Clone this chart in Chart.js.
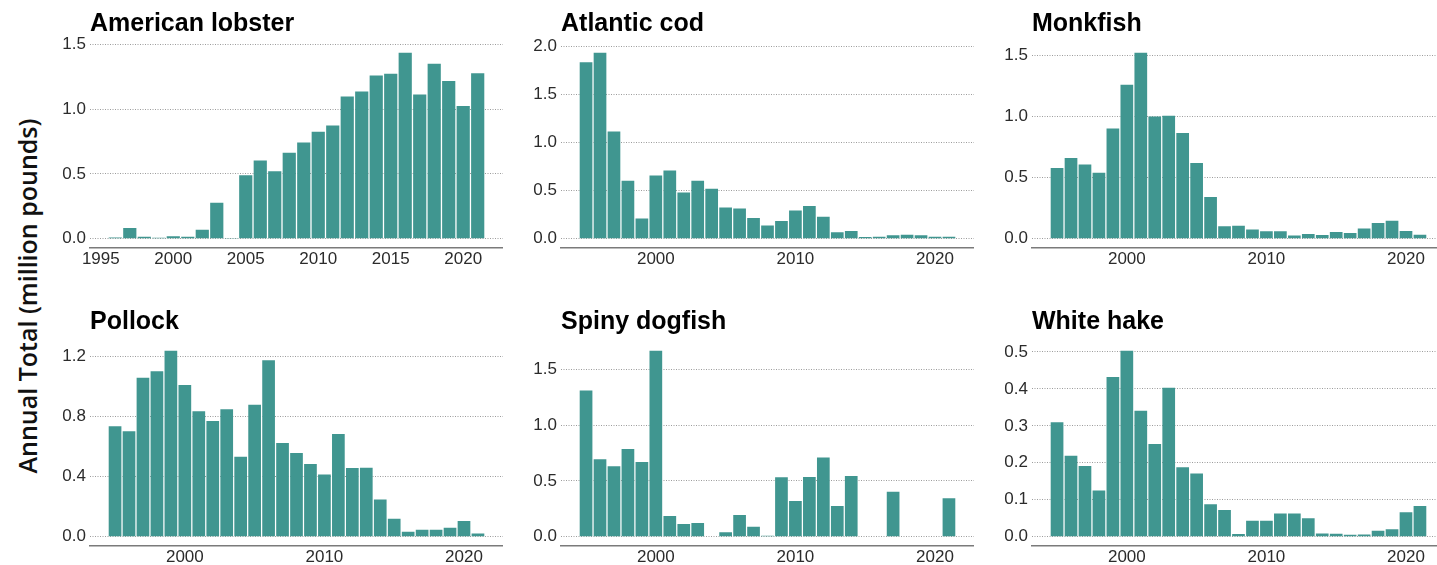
<!DOCTYPE html>
<html>
<head>
<meta charset="utf-8">
<script src="https://cdn.jsdelivr.net/npm/chart.js@4.4.1/dist/chart.umd.min.js"></script>
<style>
  html, body { margin: 0; padding: 0; background: #fff; overflow: hidden; }
  body { width: 1437px; height: 565px; position: relative; }
  canvas { position: absolute; }
  #ytitle {
    position: absolute; left: 27px; top: 296px;
    transform: translate(-50%, -50%) rotate(-90deg);
    white-space: nowrap;
    font: 600 25px 'Open Sans', sans-serif;
    color: #111;
  }
</style>
</head>
<body>
<div id="ytitle">Annual Total (million pounds)</div>
<canvas id="c0" width="463" height="278"></canvas>
<canvas id="c1" width="463" height="278"></canvas>
<canvas id="c2" width="463" height="278"></canvas>
<canvas id="c3" width="463" height="278"></canvas>
<canvas id="c4" width="463" height="278"></canvas>
<canvas id="c5" width="463" height="278"></canvas>
<script>
const years = [1995, 1996, 1997, 1998, 1999, 2000, 2001, 2002, 2003, 2004, 2005, 2006, 2007, 2008,
  2009, 2010, 2011, 2012, 2013, 2014, 2015, 2016, 2017, 2018, 2019, 2020, 2021];

const lobster = [null, 0.010, 0.082, 0.015, 0.008, 0.018, 0.015, 0.069, 0.278, 0.005, 0.489, 0.604, 0.520, 0.664,
  0.743, 0.826, 0.874, 1.098, 1.137, 1.260, 1.273, 1.435, 1.114, 1.350, 1.217, 1.024, 1.278];
const cod = [1.834, 1.931, 1.114, 0.602, 0.211, 0.657, 0.709, 0.481, 0.602, 0.519, 0.325, 0.315, 0.215, 0.138,
  0.183, 0.294, 0.339, 0.228, 0.066, 0.080, 0.017, 0.021, 0.035, 0.042, 0.035, 0.021, 0.021];
const monkfish = [0.577, 0.659, 0.607, 0.539, 0.901, 1.258, 1.519, 0.999, 1.005, 0.863, 0.618, 0.340, 0.101, 0.106,
  0.076, 0.060, 0.060, 0.027, 0.038, 0.030, 0.054, 0.046, 0.084, 0.128, 0.147, 0.063, 0.033];
const pollock = [0.734, 0.701, 1.056, 1.100, 1.236, 1.009, 0.834, 0.770, 0.847, 0.532, 0.878, 1.173, 0.623, 0.557,
  0.484, 0.413, 0.683, 0.457, 0.459, 0.248, 0.120, 0.033, 0.047, 0.047, 0.060, 0.104, 0.022];
const dogfish = [1.311, 0.695, 0.632, 0.787, 0.671, 1.668, 0.186, 0.114, 0.123, null, 0.039, 0.195, 0.090, 0.009,
  0.533, 0.320, 0.536, 0.710, 0.275, 0.545, null, null, 0.404, null, null, null, 0.344];
const hake = [0.310, 0.219, 0.191, 0.125, 0.432, 0.503, 0.341, 0.251, 0.403, 0.188, 0.171, 0.088, 0.072, 0.007,
  0.043, 0.043, 0.063, 0.063, 0.050, 0.009, 0.008, 0.005, 0.006, 0.016, 0.020, 0.066, 0.083];

const fiveYearTicks = [1995, 2000, 2005, 2010, 2015, 2020];
const decadeTicks = [2000, 2010, 2020];

const panels = [
  { title: 'American lobster', values: lobster, xTicks: fiveYearTicks, yTicks: [0, 0.5, 1.0, 1.5] },
  { title: 'Atlantic cod', values: cod, xTicks: decadeTicks, yTicks: [0, 0.5, 1.0, 1.5, 2.0] },
  { title: 'Monkfish', values: monkfish, xTicks: decadeTicks, yTicks: [0, 0.5, 1.0, 1.5] },
  { title: 'Pollock', values: pollock, xTicks: decadeTicks, yTicks: [0, 0.4, 0.8, 1.2] },
  { title: 'Spiny dogfish', values: dogfish, xTicks: decadeTicks, yTicks: [0, 0.5, 1.0, 1.5] },
  { title: 'White hake', values: hake, xTicks: decadeTicks, yTicks: [0, 0.1, 0.2, 0.3, 0.4, 0.5] }
];

const BAR = '#409690';
const TICK_FONT = { family: "'Liberation Sans', Arial, sans-serif", size: 17 };

panels.forEach((p, i) => {
  const canvas = document.getElementById('c' + i);
  canvas.style.left = (40 + (i % 3) * 471) + 'px';
  canvas.style.top = (i < 3 ? 0 : 297.5) + 'px';

  // ggplot-like ranges: bars 0.9 wide, 5% expansion
  const present = years.filter((y, k) => p.values[k] !== null);
  const lo = Math.min(...present) - 0.45;
  const hi = Math.max(...present) + 0.45;
  const xPad = (hi - lo) * 0.05;
  const vMax = Math.max(...p.values.filter(v => v !== null));

  new Chart(canvas, {
    type: 'bar',
    data: {
      datasets: [{
        data: years.map((y, k) => ({ x: y, y: p.values[k] })),
        backgroundColor: BAR,
        borderWidth: 0,
        barPercentage: 0.91,
        categoryPercentage: 1.0
      }]
    },
    options: {
      responsive: false,
      animation: false,
      events: [],
      layout: { padding: 0 },
      plugins: {
        legend: { display: false },
        tooltip: { enabled: false },
        title: {
          display: true,
          text: p.title,
          align: 'start',
          fullSize: false,
          color: '#000',
          font: { family: "'Liberation Sans', Arial, sans-serif", size: 25, weight: 'bold' },
          padding: { top: 9.5, bottom: 4 }
        }
      },
      scales: {
        x: {
          type: 'linear',
          offset: false,
          min: lo - xPad,
          max: hi + xPad,
          afterBuildTicks: axis => { axis.ticks = p.xTicks.map(v => ({ value: v })); },
          afterFit: axis => { axis.height = 30; },
          grid: { display: false, drawTicks: false },
          border: { display: true, color: '#7a7a7a', width: 1.5 },
          ticks: {
            autoSkip: false,
            maxRotation: 0,
            padding: 1,
            color: '#2b2b2b',
            font: TICK_FONT,
            callback: v => String(v)
          }
        },
        y: {
          min: -0.05 * vMax,
          max: 1.05 * vMax,
          afterBuildTicks: axis => { axis.ticks = p.yTicks.map(v => ({ value: v })); },
          afterFit: axis => { axis.width = 50; },
          grid: { color: '#9c9c9c', lineWidth: 1, drawTicks: false },
          border: { display: false, dash: [1, 1.5] },
          ticks: {
            padding: 4,
            color: '#2b2b2b',
            font: TICK_FONT,
            callback: v => v.toFixed(1)
          }
        }
      }
    }
  });
});
</script>
</body>
</html>
